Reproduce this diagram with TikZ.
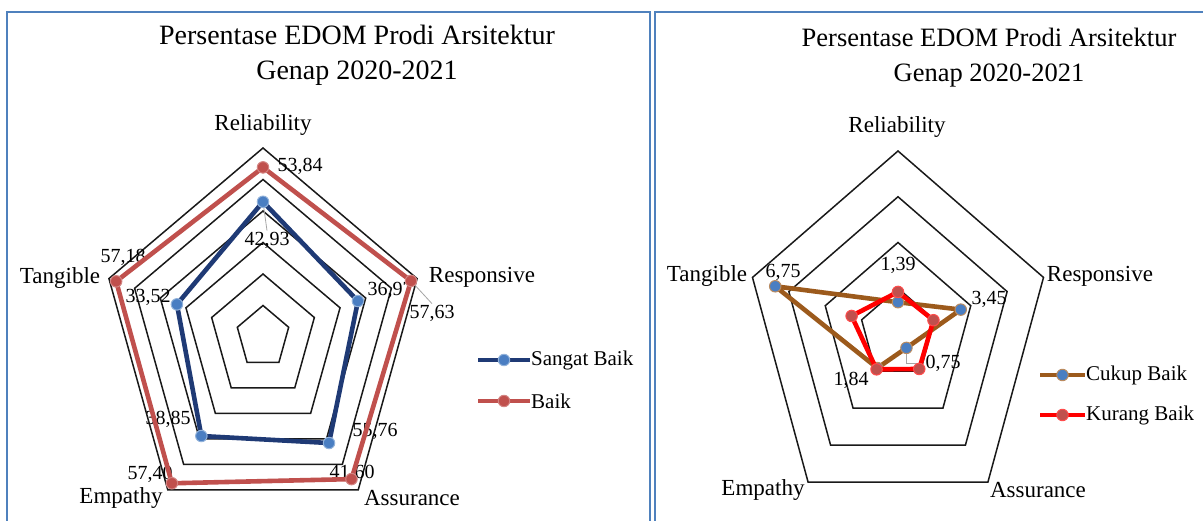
\documentclass[tikz,border=0pt]{standalone}
\usepackage{fontspec}
\setmainfont{Liberation Serif}
\usepackage{tikz}
\definecolor{framebl}{HTML}{4F81BD}
\definecolor{sbnavy}{HTML}{1F3A75}
\definecolor{sbdot}{HTML}{4A7EC2}
\definecolor{baikred}{HTML}{C0504D}
\definecolor{cbbrown}{HTML}{9C5A1C}
\definecolor{kbred}{HTML}{FF0000}
\tikzset{
  frame/.style={draw=framebl,line width=2pt},
  gridpent/.style={draw=black!90,line width=1.5pt,line join=miter},
  series/.style={line width=4.6pt,line join=round},
  leader/.style={draw=black!35,line width=0.8pt},
  dotmark/.style={circle,inner sep=0pt,minimum size=11.5pt,line width=1pt},
  titletxt/.style={align=center,font=\fontsize{28}{35}\selectfont},
  axistxt/.style={font=\fontsize{23}{23}\selectfont,inner sep=0pt},
  valtxt/.style={font=\fontsize{20}{20}\selectfont,inner sep=1pt},
  legtxt/.style={font=\fontsize{21}{21}\selectfont,inner sep=1pt,anchor=west}
}
\begin{document}
\begin{tikzpicture}[x=1pt,y=-1pt]
   \useasboundingbox (0,0) rectangle (1203,521);
   \draw[frame] (7,530) -- (7,12) -- (650,12) -- (650,530);
   \draw[frame] (655,530) -- (655,12) -- (1210,12);

   \node[titletxt] (ltitle) at (357,55) {Persentase EDOM Prodi Arsitektur\\Genap 2020-2021};
   \begin{scope}[shift={(263,337)},x={(2.7pt,0pt)},y={(0pt,3.15pt)}]
      \foreach \r in {10,20,...,60}
         \draw[gridpent] (90:\r) -- (18:\r) -- (-54:\r) -- (-126:\r) -- (162:\r) -- cycle;
      \foreach \a/\v [count=\i] in {90/42.93,18/36.97,-54/41.60,-126/38.85,162/33.52}
         \coordinate (sb\i) at (\a:\v);
      \foreach \a/\v [count=\i] in {90/53.84,18/57.63,-54/55.76,-126/57.40,162/57.18}
         \coordinate (bk\i) at (\a:\v);
   \end{scope}
   \node[axistxt] (lrel) at (263,125) {Reliability};
   \node[axistxt] (lres) at (482,277) {Responsive};
   \node[axistxt] (lass) at (412,498) {Assurance};
   \node[axistxt] (lemp) at (121,498) {Empathy};
   \node[axistxt] (ltan) at (60,278) {Tangible};
   \node[valtxt] (sbv1) at (267,240) {42,93};
   \node[valtxt] (sbv2) at (390,290) {36,97};
   \node[valtxt] (sbv3) at (352,473) {41,60};
   \node[valtxt] (sbv4) at (168,419) {38,85};
   \node[valtxt] (sbv5) at (148,297) {33,52};
   \node[valtxt] (bkv1) at (300,166) {53,84};
   \node[valtxt] (bkv2) at (432,313) {57,63};
   \node[valtxt] (bkv3) at (375,431) {55,76};
   \node[valtxt] (bkv4) at (150,474) {57,40};
   \node[valtxt] (bkv5) at (123,257) {57,18};
   \draw[leader] (sb1) -- (sbv1.north);
   \draw[leader] (bk2) -- (bkv2.north);
   \draw[series,sbnavy] (sb1) -- (sb2) -- (sb3) -- (sb4) -- (sb5) -- cycle;
   \foreach \i in {1,...,5}
      \node[dotmark,fill=sbdot,draw=sbdot!60!white] (sbm\i) at (sb\i) {};
   \draw[series,baikred] (bk1) -- (bk2) -- (bk3) -- (bk4) -- (bk5) -- cycle;
   \foreach \i in {1,...,5}
      \node[dotmark,fill=baikred,draw=baikred!70!white] (bkm\i) at (bk\i) {};
   \node[legtxt] (lgsb) at (530,360) {Sangat Baik};
   \node[legtxt] (lgbk) at (530,401) {Baik};
   \coordinate (lsb) at (478,360);
   \coordinate (lbk) at (478,401);
   \draw[series,sbnavy] (lsb) -- node[dotmark,fill=sbdot,draw=sbdot!60!white] {} (lgsb.west);
   \draw[series,baikred] (lbk) -- node[dotmark,fill=baikred,draw=baikred!70!white] {} (lgbk.west);

   \node[titletxt,font=\fontsize{26.5}{35}\selectfont] (rtitle) at (989,58) {Persentase EDOM Prodi Arsitektur\\Genap 2020-2021};
   \begin{scope}[shift={(898,334)},x={(19.125pt,0pt)},y={(0pt,22.875pt)}]
      \foreach \r in {2,4,6,8}
         \draw[gridpent] (90:\r) -- (18:\r) -- (-54:\r) -- (-126:\r) -- (162:\r) -- cycle;
      \foreach \a/\v [count=\i] in {90/1.39,18/3.45,-54/0.75,-126/1.84,162/6.75}
         \coordinate (cb\i) at (\a:\v);
      \foreach \a/\v [count=\i] in {90/1.84,18/1.95,-54/1.89,-126/1.91,162/2.55}
         \coordinate (kb\i) at (\a:\v);
   \end{scope}
   \node[axistxt] (rrel) at (897,127) {Reliability};
   \node[axistxt] (rres) at (1100,276) {Responsive};
   \node[axistxt] (rass) at (1038,490) {Assurance};
   \node[axistxt] (remp) at (763,490) {Empathy};
   \node[axistxt] (rtan) at (707,276) {Tangible};
   \node[valtxt] (cbv1) at (898,265) {1,39};
   \node[valtxt] (cbv2) at (989,299) {3,45};
   \node[valtxt] (cbv3) at (943,363) {0,75};
   \node[valtxt] (cbv4) at (851,380) {1,84};
   \node[valtxt] (cbv5) at (783,272) {6,75};
   \draw[leader] (cb3) |- (cbv3.west);
   \draw[series,cbbrown] (cb1) -- (cb2) -- (cb3) -- (cb4) -- (cb5) -- cycle;
   \foreach \i in {1,...,5}
      \node[dotmark,fill=sbdot,draw=cbbrown!70!white] (cbm\i) at (cb\i) {};
   \draw[series,kbred] (kb1) -- (kb2) -- (kb3) -- (kb4) -- (kb5) -- cycle;
   \foreach \i in {1,...,5}
      \node[dotmark,fill=baikred,draw=kbred!70!white] (kbm\i) at (kb\i) {};
   \node[legtxt] (lgcb) at (1085,375) {Cukup Baik};
   \node[legtxt] (lgkb) at (1085,415) {Kurang Baik};
   \coordinate (lcb) at (1040,375);
   \coordinate (lkb) at (1040,415);
   \draw[series,cbbrown] (lcb) -- node[dotmark,fill=sbdot,draw=cbbrown!70!white] {} (lgcb.west);
   \draw[series,kbred] (lkb) -- node[dotmark,fill=baikred,draw=kbred!70!white] {} (lgkb.west);
\end{tikzpicture}
\end{document}
